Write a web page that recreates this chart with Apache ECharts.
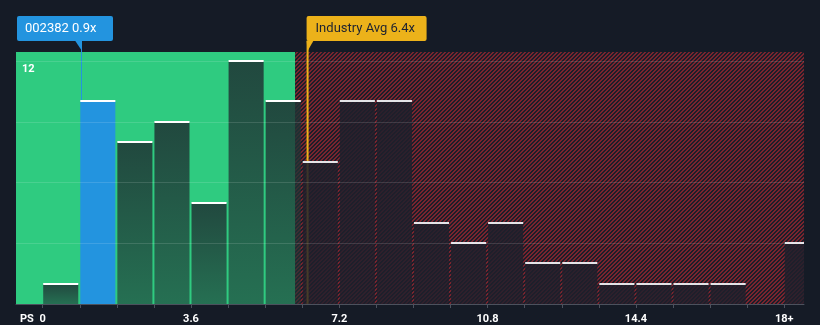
<!DOCTYPE html>
<html>
<head>
<meta charset="utf-8">
<script src="https://cdn.jsdelivr.net/npm/echarts@6/dist/echarts.min.js"></script>
<style>
  html, body { margin: 0; padding: 0; background: #151b26; }
  #chart { width: 820px; height: 325px; }
</style>
</head>
<body>
<div id="chart"></div>
<script>
// Price-to-sales histogram: lower bin edges and number of companies per bin
const binStarts = [0, 0.9, 1.8, 2.7, 3.6, 4.5, 5.4, 6.3, 7.2, 8.1, 9.0, 9.9, 10.8, 11.7, 12.6, 13.5, 14.4, 15.3, 16.2, 17.1, 18];
const companyCounts = [1, 10, 8, 9, 5, 12, 10, 7, 10, 10, 4, 3, 4, 2, 2, 1, 1, 1, 1, 0, 3];
const binWidth = 0.9;

// Axis ticks and labels
const xTickValues = [0, 3.6, 7.2, 10.8, 14.4, 18];
const xTickLabels = ['0', '3.6', '7.2', '10.8', '14.4', '18+'];
const yLabelValues = [12];
const yGridValues = [3, 6, 9, 12];

// Highlighted company and industry average
const companyName = '002382';
const companyPS = 0.94;
const industryPS = 6.43;
const fairBound = 6.13;

// Axis extents
const xMin = -0.648, xMax = 18.48, yMax = 12.44;

const FONT = 'Roboto, "Noto Sans", sans-serif';

// Diagonal red hatch for the region above the fair-value bound
function makeHatch() {
  const size = 4;
  const c = document.createElement('canvas');
  c.width = size; c.height = size;
  const ctx = c.getContext('2d');
  const img = ctx.createImageData(size, size);
  for (let y = 0; y < size; y++) {
    for (let x = 0; x < size; x++) {
      const i = (y * size + x) * 4;
      const red = ((x + y) % size) < 2;
      img.data[i] = red ? 122 : 28;
      img.data[i + 1] = red ? 36 : 30;
      img.data[i + 2] = red ? 46 : 41;
      img.data[i + 3] = 255;
    }
  }
  ctx.putImageData(img, 0, 0);
  return c;
}
const hatch = makeHatch();

const chart = echarts.init(document.getElementById('chart'), null, { renderer: 'canvas' });

const barData = binStarts.map((s, i) => [s, companyCounts[i]]);

function nearestLabel(v) {
  let best = 0;
  xTickValues.forEach((t, i) => { if (Math.abs(t - v) < Math.abs(xTickValues[best] - v)) best = i; });
  return xTickLabels[best];
}

function renderRegion(params, api) {
  const a = api.coord([api.value(0), yMax]);
  const b = api.coord([api.value(1), 0]);
  const over = params.dataIndex === 1;
  return {
    type: 'rect',
    shape: { x: a[0], y: a[1], width: b[0] - a[0], height: b[1] - a[1] },
    style: { fill: over ? { image: hatch, repeat: 'repeat' } : '#2fcb80' }
  };
}

function renderBar(params, api) {
  const start = api.value(0), count = api.value(1);
  if (!count) return null;
  const cs = params.coordSys;
  const p0 = api.coord([start, count]);
  const p1 = api.coord([start + binWidth, 0]);
  const x0 = p0[0] + 0.5;
  const x1 = Math.min(p1[0] - 1.5, cs.x + cs.width);
  const top = Math.round(p0[1]);
  const bottom = p1[1];
  const isCompany = companyPS >= start && companyPS < start + binWidth;
  const inFair = start < fairBound;
  let fill;
  if (isCompany) {
    fill = '#2394df';
  } else if (inFair) {
    fill = new echarts.graphic.LinearGradient(0, 0, 0, 1, [
      { offset: 0, color: 'rgba(31,51,52,0.86)' },
      { offset: 1, color: 'rgba(31,51,52,0.6)' }
    ]);
  } else {
    fill = new echarts.graphic.LinearGradient(0, 0, 0, 1, [
      { offset: 0, color: 'rgba(30,31,43,0.86)' },
      { offset: 1, color: 'rgba(30,31,43,0.8)' }
    ]);
  }
  return {
    type: 'group',
    children: [
      { type: 'rect', shape: { x: x0, y: top, width: x1 - x0, height: bottom - top }, style: { fill } },
      { type: 'rect', shape: { x: x0, y: top - 1, width: x1 - x0, height: 2 },
        style: { fill: (inFair || isCompany) ? '#ffffff' : '#e4e4e8' } }
    ]
  };
}

function renderMarker(params, api) {
  const cs = params.coordSys;
  const v = api.value(0);
  const isCompany = params.dataIndex === 0;
  const boxTop = 16, boxH = 25, boxBottom = boxTop + boxH, tipY = cs.y;
  if (isCompany) {
    const lx = Math.round(api.coord([v, 0])[0]) + 0.5;
    const bin = binStarts.findIndex(s => v >= s && v < s + binWidth);
    const barTop = api.coord([v, companyCounts[bin]])[1];
    const label = companyName + ' ' + v.toFixed(1) + 'x';
    return {
      type: 'group',
      children: [
        { type: 'line', shape: { x1: lx, y1: boxBottom, x2: lx, y2: barTop }, style: { stroke: '#2394df', lineWidth: 1 } },
        { type: 'rect', shape: { x: lx - 64.5, y: boxTop, width: 96, height: boxH, r: 2 }, style: { fill: '#2394df' } },
        { type: 'polygon', shape: { points: [[lx - 6.5, boxBottom - 0.5], [lx + 0.5, boxBottom - 0.5], [lx + 0.5, tipY - 1]] }, style: { fill: '#2394df' } },
        { type: 'text', x: lx - 56.5, y: boxTop + boxH / 2 + 0.5,
          style: { text: label, fill: '#ffffff', font: '13px ' + FONT, verticalAlign: 'middle', align: 'left' } }
      ]
    };
  }
  const lx = api.coord([v, 0])[0];
  const label = 'Industry Avg ' + v.toFixed(1) + 'x';
  return {
    type: 'group',
    children: [
      { type: 'line', shape: { x1: lx, y1: boxBottom, x2: lx, y2: cs.y + cs.height }, style: { stroke: '#ecb21a', lineWidth: 2 } },
      { type: 'rect', shape: { x: lx - 1, y: boxTop, width: 120, height: boxH, r: 2 }, style: { fill: '#ecb21a' } },
      { type: 'polygon', shape: { points: [[lx - 1, boxBottom - 0.5], [lx + 6, boxBottom - 0.5], [lx, tipY - 1]] }, style: { fill: '#ecb21a' } },
      { type: 'text', x: lx + 8, y: boxTop + boxH / 2 + 0.5,
        style: { text: label, fill: '#1d2230', font: '13px ' + FONT, verticalAlign: 'middle', align: 'left' } }
    ]
  };
}

function renderGridLine(params, api) {
  const cs = params.coordSys;
  const y = Math.round(api.coord([0, api.value(1)])[1]) + 0.5;
  return {
    type: 'line',
    shape: { x1: cs.x, y1: y, x2: cs.x + cs.width, y2: y },
    style: { stroke: 'rgba(255,255,255,0.13)', lineWidth: 1 }
  };
}

chart.setOption({
  backgroundColor: '#151b26',
  animation: false,
  grid: { left: 16, right: 16, top: 52, bottom: 21, containLabel: false },
  xAxis: {
    type: 'value',
    min: xMin,
    max: xMax,
    axisLine: { show: true, lineStyle: { color: '#4c515d', width: 1 } },
    axisTick: { show: true, length: 4, customValues: binStarts, lineStyle: { color: '#4c515d' } },
    axisLabel: {
      customValues: xTickValues,
      formatter: v => nearestLabel(v),
      color: '#ffffff', fontSize: 11, fontWeight: 'bold', fontFamily: FONT, margin: 10
    },
    splitLine: { show: false }
  },
  yAxis: {
    type: 'value',
    min: 0,
    max: yMax,
    axisLine: { show: false },
    axisTick: { show: false },
    splitLine: { show: false },
    axisLabel: {
      inside: true,
      customValues: yLabelValues,
      color: '#ffffff', fontSize: 11, fontWeight: 'bold', fontFamily: FONT,
      margin: 6, verticalAlign: 'top', padding: [3, 0, 0, 0]
    }
  },
  graphic: [
    { type: 'text', left: 20, top: 314, style: { text: 'PS', fill: '#ffffff', font: 'bold 11px ' + FONT } },
    { type: 'text', x: 27.5, y: 252, rotation: Math.PI / 2,
      style: { text: 'No. of Companies', fill: '#ffffff', font: '12px ' + FONT, align: 'center', verticalAlign: 'middle' } }
  ],
  series: [
    { type: 'custom', name: 'regions', z: 0, silent: true, renderItem: renderRegion,
      data: [[xMin, fairBound], [fairBound, xMax]] },
    { type: 'custom', name: 'markers', z: 1, silent: true, clip: false, renderItem: renderMarker,
      data: [[companyPS, 0], [industryPS, 0]] },
    { type: 'custom', name: 'companies', z: 2, silent: true, renderItem: renderBar, data: barData },
    { type: 'custom', name: 'gridlines', z: 3, silent: true, renderItem: renderGridLine,
      data: yGridValues.map(v => [0, v]) }
  ]
});
</script>
</body>
</html>
